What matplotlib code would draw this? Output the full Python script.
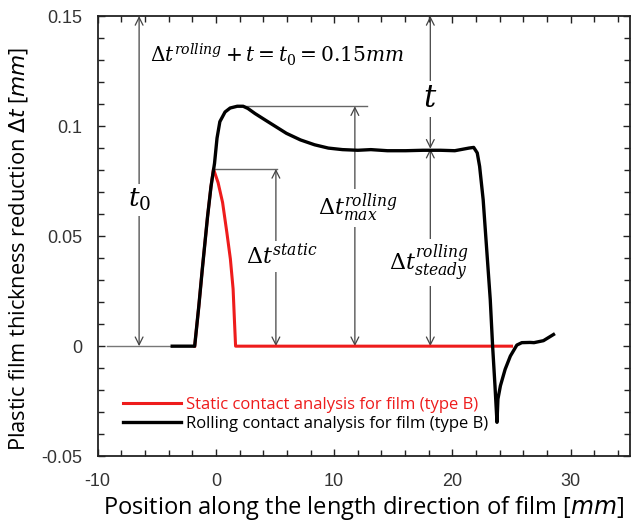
import matplotlib
matplotlib.use("Agg")
import matplotlib.pyplot as plt
from matplotlib.ticker import MultipleLocator

plt.rcParams['font.family'] = ['Open Sans', 'DejaVu Sans']
plt.rcParams['mathtext.fontset'] = 'dejavuserif'

# ---- data ----
black_x = [-3.7, -1.8, -1.45, -1.16, -0.71, -0.42, -0.12, 0.09, 0.33, 0.77, 1.2, 1.8, 2.3, 2.7,
           3.3, 4.18, 5.07, 5.96, 7.15, 8.34, 9.5, 10.7, 12.0, 13.1, 14.5, 16.05, 17.5, 19.0,
           20.2, 21.4, 21.8, 22.1, 22.3, 22.6, 22.9, 23.2, 23.4, 23.6, 23.77, 23.85, 24.06,
           24.46, 24.9, 25.45, 25.87, 26.57, 26.9, 27.7, 28.55]
black_y = [0, 0, 0.0182, 0.0347, 0.0589, 0.0725, 0.0831, 0.0945, 0.102, 0.1064, 0.1082, 0.109,
           0.109, 0.108, 0.1057, 0.1027, 0.0997, 0.0967, 0.0937, 0.0915, 0.090, 0.0893, 0.0890,
           0.0893, 0.0888, 0.0888, 0.0890, 0.089, 0.0888, 0.090, 0.0903, 0.0878, 0.0817, 0.0666,
           0.0439, 0.0212, 0.0, -0.018, -0.0346, -0.024, -0.018, -0.0105, -0.0045, 0.0005,
           0.0016, 0.0017, 0.0016, 0.0025, 0.0053]
red_x = [-1.8, -1.45, -1.16, -0.71, -0.42, -0.21, 0.18, 0.56, 0.92, 1.22, 1.45, 1.57, 1.66, 25.0]
red_y = [0, 0.0182, 0.0347, 0.0589, 0.0725, 0.0805, 0.0743, 0.0653, 0.0517, 0.0396, 0.026,
         0.0109, 0, 0]

t0 = 0.15
peak_rolling = 0.109
peak_static = 0.0805
steady = 0.0897

xticks = [-10, 0, 10, 20, 30]
xticklabels = ['-10', '0', '10', '20', '30']
yticks = [-0.05, 0, 0.05, 0.1, 0.15]
yticklabels = ['-0.05', '0', '0.05', '0.1', '0.15']

label_static = 'Static contact analysis for film (type B)'
label_rolling = 'Rolling contact analysis for film (type B)'

# ---- figure ----
fig = plt.figure(figsize=(6.4, 5.25), dpi=100)
ax = fig.add_axes([0.1527, 0.131, 0.8313, 0.8385])
ax.set_xlim(-10, 35)
ax.set_ylim(-0.05, 0.15)

ann_c = '#444444'
ann_lw = 0.9

# reference lines
ax.plot([-9.2, -3.7], [0, 0], color='#777777', lw=1.0, zorder=1)
ax.plot([2.3, 12.8], [peak_rolling, peak_rolling], color='#666666', lw=1.0, zorder=1)
ax.plot([-0.2, 5.2], [peak_static, peak_static], color='#666666', lw=1.0, zorder=1)

def darrow(x, y0, y1):
    ax.annotate('', xy=(x, y1), xytext=(x, y0),
                arrowprops=dict(arrowstyle='<->', color=ann_c, lw=ann_lw,
                                shrinkA=0, shrinkB=0, mutation_scale=14), zorder=2)

darrow(-6.5, 0, t0)
darrow(5.07, 0, peak_static)
darrow(11.75, 0, peak_rolling)
darrow(18.13, 0, steady)
darrow(18.13, steady, t0)

box = dict(facecolor='white', edgecolor='none', pad=2)
ax.text(-6.5, 0.0665, r'$t_0$', fontsize=19, ha='center', va='center', bbox=box, zorder=3)
ax.text(18.13, 0.1124, r'$t$', fontsize=22, ha='center', va='center', bbox=box, zorder=3)
ax.text(12.0, 0.0628, r'$\Delta t_{max}^{rolling}$', fontsize=16, ha='center', va='center',
        bbox=box, zorder=3)
ax.text(5.6, 0.0408, r'$\Delta t^{static}$', fontsize=16, ha='center', va='center',
        bbox=box, zorder=3)
ax.text(18.0, 0.038, r'$\Delta t_{steady}^{rolling}$', fontsize=16, ha='center', va='center',
        bbox=box, zorder=3)
ax.text(-5.6, 0.1325, r'$\Delta t^{rolling} + t = t_0 = 0.15mm$', fontsize=14.5,
        ha='left', va='center', zorder=3)

# curves
l1, = ax.plot(red_x, red_y, color='#ee1c1c', lw=2.2, zorder=4, label=label_static)
l2, = ax.plot(black_x, black_y, color='black', lw=2.4, zorder=5, label=label_rolling)

leg = ax.legend(handles=[l1, l2], loc='lower left', bbox_to_anchor=(0.035, 0.04),
                frameon=False, fontsize=12, handlelength=3.5, handletextpad=0.3,
                labelspacing=0.2, borderaxespad=0)
leg.get_texts()[0].set_color('#ee1c1c')

# ticks
ax.set_xticks(xticks)
ax.set_xticklabels(xticklabels)
ax.set_yticks(yticks)
ax.set_yticklabels(yticklabels)
ax.xaxis.set_minor_locator(MultipleLocator(2))
ax.yaxis.set_minor_locator(MultipleLocator(0.01))
ax.tick_params(which='both', direction='in', top=True, right=True, colors='#222222',
               labelcolor='#333333')
ax.tick_params(which='major', length=5, width=1)
ax.tick_params(which='minor', length=4, width=1)
for lab in ax.get_xticklabels() + ax.get_yticklabels():
    lab.set_family('Liberation Sans')
    lab.set_fontsize(13)
ax.tick_params(axis='x', pad=12)
ax.tick_params(axis='y', pad=11)
for s in ax.spines.values():
    s.set_linewidth(1.3)
    s.set_color('#222222')

ax.set_xlabel(r'Position along the length direction of film [$mm$]', fontsize=17,
              math_fontfamily='dejavusans', labelpad=3)
ax.set_ylabel(r'Plastic film thickness reduction $\Delta t$ [$mm$]', fontsize=15.7,
              math_fontfamily='dejavusans', labelpad=2)
ax.yaxis.set_label_coords(-0.128, 0.47)

fig.savefig('out.png', dpi=100)
